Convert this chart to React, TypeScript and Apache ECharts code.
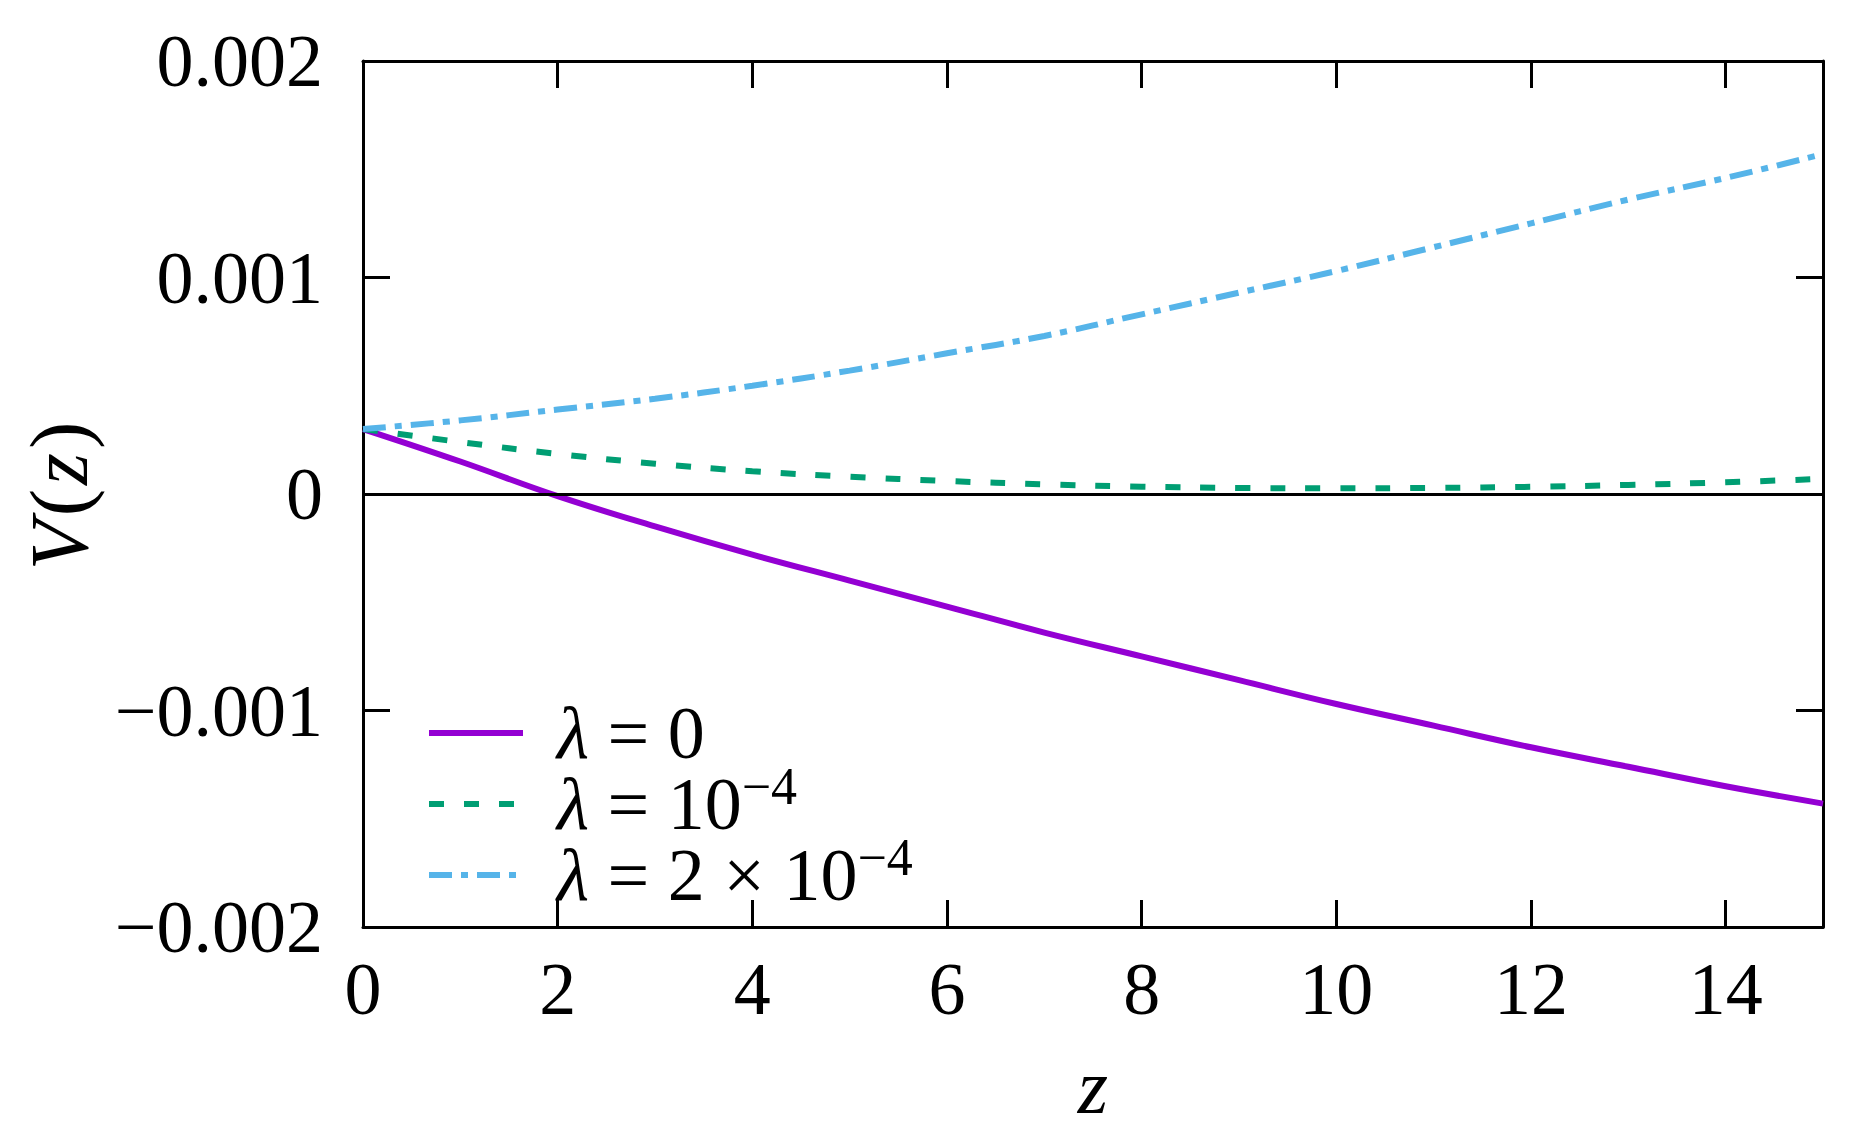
import React, { useEffect, useRef } from "react";
import * as echarts from "echarts";

const zValues = [0, 1, 2, 3, 4, 5, 6, 7, 8, 9, 10, 11, 12, 13, 14, 15];
const vLambda0 = [0.0003, 0.00015, -0.00001, -0.00015, -0.00028, -0.0004, -0.00052, -0.00064, -0.00075, -0.00086, -0.00097, -0.00107, -0.00117, -0.00126, -0.00135, -0.00143];
const vLambda1 = [0.0003, 0.00024, 0.000185, 0.00014, 0.000105, 0.00008, 0.00006, 0.000045, 0.000034, 0.000028, 0.000026, 0.000028, 0.000033, 0.000042, 0.000054, 0.00007];
const vLambda2 = [0.0003, 0.00034, 0.00039, 0.00044, 0.0005, 0.00057, 0.00065, 0.00073, 0.00083, 0.00093, 0.00103, 0.00114, 0.00125, 0.00136, 0.00146, 0.00157];
const seriesNames = ["λ = 0", "λ = 10^-4", "λ = 2 × 10^-4"];
const seriesColors = ["#9400D3", "#009E73", "#56B4E9"];
const xTicks = { min: 0, max: 15, interval: 2 };
const yTicks = { min: -0.002, max: 0.002, interval: 0.001 };

const FONT = "'Liberation Serif', 'DejaVu Serif', serif";

function fmtY(v: number): string {
  if (Math.abs(v) < 1e-12) return "0";
  const s = Math.abs(v).toFixed(3);
  return v < 0 ? "\u2212" + s : s;
}

function legendLabel(name: string): string {
  if (name === seriesNames[0]) return "{l|λ}{n| = 0}";
  if (name === seriesNames[1]) return "{l|λ}{n| = 10}{s|\u22124}";
  return "{l|λ}{n| = 2 × 10}{s|\u22124}";
}

export default function App() {
  const ref = useRef<HTMLDivElement>(null);
  useEffect(() => {
    document.body.style.margin = "0";
    if (!ref.current) return;
    const chart = echarts.init(ref.current, null, { renderer: "svg" });
    const mk = (data: number[]) => zValues.map((z, i) => [z, data[i]]);
    const axisCommon = {
      axisLine: { show: true, onZero: false, lineStyle: { color: "#000", width: 3 } },
      axisTick: { show: true, inside: true, length: 27, lineStyle: { color: "#000", width: 3 } },
      splitLine: { show: false },
    };
    chart.setOption({
      animation: false,
      backgroundColor: "#fff",
      grid: { left: 363, right: 26, top: 61, bottom: 212, containLabel: false },
      xAxis: [
        {
          type: "value",
          position: "bottom",
          ...xTicks,
          ...axisCommon,
          axisLabel: {
            fontFamily: FONT, fontSize: 74, color: "#000", margin: 25,
            showMaxLabel: false,
          },
          name: "{i|z}",
          nameLocation: "middle",
          nameGap: 120,
          nameTextStyle: {
            rich: { i: { fontFamily: FONT, fontSize: 78, fontStyle: "italic", color: "#000" } },
          },
        },
        {
          type: "value",
          position: "top",
          ...xTicks,
          ...axisCommon,
          axisLabel: { show: false },
        },
      ],
      yAxis: [
        {
          type: "value",
          position: "left",
          ...yTicks,
          ...axisCommon,
          axisLabel: {
            fontFamily: FONT, fontSize: 74, color: "#000", margin: 40,
            formatter: fmtY,
          },
          name: "{i|V}{r|(}{i|z}{r|)}",
          nameLocation: "middle",
          nameGap: 263,
          nameTextStyle: {
            rich: {
              i: { fontFamily: FONT, fontSize: 82, fontStyle: "italic", color: "#000" },
              r: { fontFamily: FONT, fontSize: 82, color: "#000", padding: [0, 4, 0, 4] },
            },
          },
        },
        {
          type: "value",
          position: "right",
          ...yTicks,
          ...axisCommon,
          axisLabel: { show: false },
        },
      ],
      legend: {
        orient: "vertical",
        left: 421,
        top: 691,
        itemWidth: 94,
        itemHeight: 20,
        itemGap: -10,
        data: seriesNames,
        formatter: legendLabel,
        itemStyle: { opacity: 0 },
        lineStyle: { width: 6 },
        textStyle: {
          fontFamily: FONT,
          fontSize: 74,
          color: "#000",
          lineHeight: 50,
          padding: [0, 0, 0, 29],
          rich: {
            l: { fontFamily: FONT, fontSize: 74, fontStyle: "italic", color: "#000", lineHeight: 50 },
            n: { fontFamily: FONT, fontSize: 74, color: "#000", lineHeight: 50 },
            s: { fontFamily: FONT, fontSize: 52, color: "#000", lineHeight: 14, height: 14, verticalAlign: "top" },
          },
        },
      },
      series: [
        {
          name: seriesNames[0],
          type: "line",
          data: mk(vLambda0),
          smooth: 0.4,
          showSymbol: false,
          symbol: "none",
          color: seriesColors[0],
          lineStyle: { color: seriesColors[0], width: 6, type: "solid" },
          markLine: {
            silent: true,
            symbol: ["none", "none"],
            label: { show: false },
            lineStyle: { color: "#000", width: 3, type: "solid" },
            data: [{ yAxis: 0 }],
          },
          z: 3,
        },
        {
          name: seriesNames[1],
          type: "line",
          data: mk(vLambda1),
          smooth: 0.4,
          showSymbol: false,
          symbol: "none",
          color: seriesColors[1],
          lineStyle: { color: seriesColors[1], width: 6, type: [15, 20], cap: "butt" },
          z: 3,
        },
        {
          name: seriesNames[2],
          type: "line",
          data: mk(vLambda2),
          smooth: 0.4,
          showSymbol: false,
          symbol: "none",
          color: seriesColors[2],
          lineStyle: { color: seriesColors[2], width: 6, type: [23, 9, 7, 9], cap: "butt" },
          z: 3,
        },
      ],
    });
    return () => chart.dispose();
  }, []);
  return <div ref={ref} style={{ width: 1849, height: 1139 }} />;
}
